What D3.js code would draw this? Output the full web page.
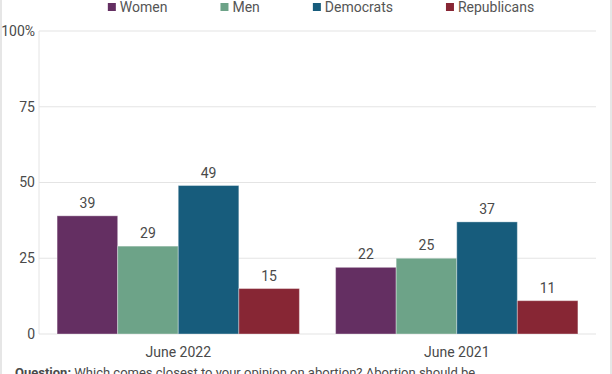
<!DOCTYPE html>
<html>
<head>
<meta charset="utf-8">
<script src="https://cdn.jsdelivr.net/npm/d3@7"></script>
<style>
  body { margin: 0; background: #fff; }
  svg { display: block; font-family: Roboto, sans-serif; }
</style>
</head>
<body>
<div id="chart"></div>
<script>
const periods = ['June 2022', 'June 2021'];
const groups = ['Women', 'Men', 'Democrats', 'Republicans'];
const women = [39, 22];
const men = [29, 25];
const democrats = [49, 37];
const republicans = [15, 11];
const yTicks = [0, 25, 50, 75, 100];
const note = 'Which comes closest to your opinion on abortion? Abortion should be...';

const series = [women, men, democrats, republicans];
const data = periods.map((p, i) => ({
  period: p,
  values: groups.map((g, j) => ({ group: g, value: series[j][i] }))
}));

const width = 612, height = 374;
const margin = {top: 31, right: 16, bottom: 40, left: 39};
const innerW = width - margin.left - margin.right;
const innerH = height - margin.top - margin.bottom;
const textColor = '#4a4a4a';

const color = d3.scaleOrdinal()
    .domain(groups)
    .range(['#642f62', '#6da388', '#175c7c', '#872634']);

const svg = d3.select('#chart')
  .append('svg')
    .attr('width', width)
    .attr('height', height);

// outer frame lines
svg.append('line')
    .attr('x1', 1).attr('x2', 1).attr('y1', 0).attr('y2', height)
    .attr('stroke', '#dedede').attr('stroke-width', 1.5);
svg.append('line')
    .attr('x1', 611).attr('x2', 611).attr('y1', 0).attr('y2', height)
    .attr('stroke', '#dedede').attr('stroke-width', 1.5);

const g = svg.append('g')
    .attr('transform', `translate(${margin.left}, ${margin.top})`);

const x0 = d3.scaleBand()
    .domain(periods)
    .range([0, innerW])
    .paddingInner(0.13)
    .paddingOuter(0.065);

const x1 = d3.scaleBand()
    .domain(groups)
    .range([0, x0.bandwidth()]);

const y = d3.scaleLinear()
    .domain([0, 100])
    .range([innerH, 0]);

// grid
g.selectAll('.grid')
  .data(yTicks)
  .join('line')
    .attr('class', 'grid')
    .attr('x1', 0).attr('x2', innerW)
    .attr('y1', d => y(d)).attr('y2', d => y(d))
    .attr('stroke', '#e4e4e4')
    .attr('stroke-width', 1.2);

g.append('line')
    .attr('x1', 0).attr('x2', 0)
    .attr('y1', 0).attr('y2', innerH)
    .attr('stroke', '#e4e4e4');

// y axis labels
g.selectAll('.ylab')
  .data(yTicks)
  .join('text')
    .attr('class', 'ylab')
    .attr('x', -4)
    .attr('y', d => y(d))
    .attr('dy', '0.35em')
    .attr('text-anchor', 'end')
    .attr('font-size', 14)
    .attr('fill', textColor)
    .text(d => d === 100 ? '100%' : d);

// bars
const pg = g.selectAll('.period')
  .data(data)
  .join('g')
    .attr('class', 'period')
    .attr('transform', d => `translate(${x0(d.period)},0)`);

pg.selectAll('rect')
  .data(d => d.values)
  .join('rect')
    .attr('x', d => x1(d.group))
    .attr('y', d => y(d.value))
    .attr('width', x1.bandwidth())
    .attr('height', d => innerH - y(d.value))
    .attr('fill', d => color(d.group))
    .attr('stroke', '#fff')
    .attr('stroke-opacity', 0.35)
    .attr('stroke-width', 1);

pg.selectAll('.val')
  .data(d => d.values)
  .join('text')
    .attr('class', 'val')
    .attr('x', d => x1(d.group) + x1.bandwidth() / 2)
    .attr('y', d => y(d.value) - 8)
    .attr('text-anchor', 'middle')
    .attr('font-size', 14)
    .attr('fill', textColor)
    .text(d => d.value);

// x labels
g.selectAll('.xlab')
  .data(periods)
  .join('text')
    .attr('class', 'xlab')
    .attr('x', d => x0(d) + x0.bandwidth() / 2)
    .attr('y', innerH + 23)
    .attr('text-anchor', 'middle')
    .attr('font-size', 14)
    .attr('fill', textColor)
    .text(d => d);

// legend
const legend = svg.append('g')
    .attr('font-size', 14)
    .attr('fill', '#555');

const items = legend.selectAll('g')
  .data(groups)
  .join('g');

items.append('rect')
    .attr('y', 3)
    .attr('width', 8)
    .attr('height', 8)
    .attr('fill', d => color(d));

items.append('text')
    .attr('x', 12)
    .attr('y', 12)
    .text(d => d);

let offset = 0;
const widths = [];
items.each(function() {
  const w = d3.select(this).select('text').node().getComputedTextLength();
  widths.push(w);
});
const gap = 53;
const total = d3.sum(widths) + widths.length * 12 + gap * (widths.length - 1);
let start = 321 - total / 2;
items.attr('transform', (d, i) => {
  const t = `translate(${start + offset},0)`;
  offset += 12 + widths[i] + gap;
  return t;
});

// question note, cut at the bottom like the reference
const q = svg.append('text')
    .attr('x', 15)
    .attr('y', 377)
    .attr('font-size', 13)
    .attr('fill', textColor);
q.append('tspan').attr('font-weight', 'bold').text('Question: ');
q.append('tspan').text(note);
</script>
</body>
</html>
